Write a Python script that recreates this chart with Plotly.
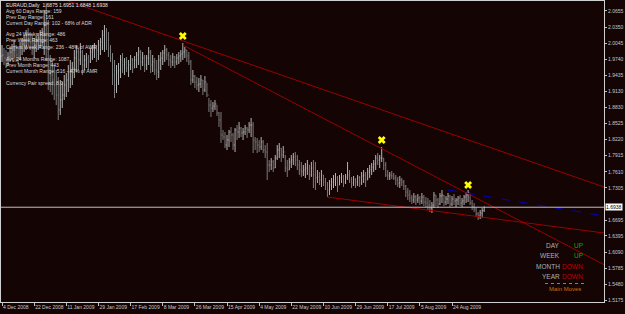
import plotly.graph_objects as go

# ---------------- data ----------------
highs = [2.0010,1.9953,1.9916,1.9878,1.9972,2.0029,2.0105,2.0010,1.9953,2.0067,
         2.0143,2.0200,2.0295,2.0332,2.0257,2.0200,2.0143,2.0181,2.0238,2.0295,
         2.0332,2.0674,2.0806,2.0484,1.9821,1.9727,1.9632,1.9537,1.9404,1.9348,
         1.9310,1.9442,1.9480,1.9632,1.9727,1.9689,1.9916,2.0010,1.9953,2.0048,
         1.9916,1.9821,1.9859,1.9821,1.9953,2.0010,2.0048,2.0010,2.0105,2.0143,
         2.0295,2.0389,2.0332,2.0257,2.0010,1.9859,1.9727,1.9632,1.9670,1.9821,
         1.9859,1.9764,1.9783,1.9727,1.9821,1.9764,1.9802,1.9878,1.9972,1.9916,
         1.9878,1.9821,1.9821,1.9972,1.9916,1.9821,1.9764,1.9727,1.9821,1.9878,
         1.9916,2.0010,1.9953,1.9878,1.9821,1.9859,1.9802,1.9840,1.9878,1.9916,
         2.0048,1.9972,1.9916,1.9878,1.9727,1.9537,1.9442,1.9404,1.9385,1.9442,
         1.9348,1.9423,1.9291,1.9006,1.8969,1.8931,1.8969,1.8874,1.8742,1.8742,
         1.8401,1.8363,1.8306,1.8401,1.8457,1.8344,1.8438,1.8495,1.8552,1.8457,
         1.8438,1.8495,1.8457,1.8552,1.8628,1.8552,1.8268,1.8249,1.8211,1.8268,
         1.8211,1.8116,1.8154,1.7833,1.7870,1.7833,1.7927,1.8116,1.8154,1.8059,
         1.8097,1.7927,1.7833,1.7870,1.7927,1.7965,1.7984,1.7927,1.7833,1.7795,
         1.7738,1.7776,1.7833,1.7738,1.7795,1.7833,1.7795,1.7643,1.7605,1.7643,
         1.7549,1.7492,1.7416,1.7454,1.7492,1.7549,1.7586,1.7530,1.7549,1.7586,
         1.7549,1.7567,1.7795,1.7643,1.7511,1.7530,1.7492,1.7549,1.7530,1.7605,
         1.7643,1.7605,1.7681,1.7738,1.7776,1.7833,1.7927,1.7965,1.7927,1.8078,
         1.7870,1.7795,1.7643,1.7605,1.7624,1.7586,1.7549,1.7511,1.7530,1.7492,
         1.7454,1.7359,1.7302,1.7264,1.7169,1.7207,1.7169,1.7188,1.7150,1.7207,
         1.7169,1.7131,1.7113,1.7075,1.7037,1.7226,1.7169,1.7113,1.7207,1.7264,
         1.7169,1.7150,1.7207,1.7169,1.7150,1.7188,1.7113,1.7150,1.7169,1.7113,
         1.7169,1.7226,1.7264,1.7207,1.7075,1.7018,1.6942,1.6848,1.6886,1.6923,
         1.6951]
lows = [1.9689,1.9632,1.9575,1.9613,1.9689,1.9727,1.9764,1.9689,1.9651,1.9727,
        1.9821,1.9878,1.9916,2.0010,1.9916,1.9821,1.9764,1.9878,1.9916,1.9953,
        1.9991,1.9821,1.9727,1.9158,1.9120,1.9063,1.8969,1.8874,1.8590,1.8685,
        1.8817,1.8969,1.9025,1.9120,1.9196,1.9253,1.9385,1.9499,1.9537,1.9632,
        1.9442,1.9537,1.9575,1.9537,1.9670,1.9727,1.9764,1.9689,1.9727,1.9821,
        1.9916,1.9878,1.9916,1.9783,1.9689,1.9253,1.9006,1.9101,1.9253,1.9385,
        1.9480,1.9442,1.9499,1.9404,1.9537,1.9480,1.9575,1.9575,1.9632,1.9537,
        1.9613,1.9499,1.9537,1.9632,1.9480,1.9499,1.9442,1.9348,1.9385,1.9537,
        1.9632,1.9689,1.9727,1.9613,1.9575,1.9613,1.9575,1.9632,1.9651,1.9689,
        1.9727,1.9764,1.9689,1.9632,1.9253,1.9291,1.9196,1.9158,1.9120,1.9196,
        1.9063,1.9120,1.9025,1.8742,1.8647,1.8742,1.8780,1.8666,1.8457,1.8154,
        1.8211,1.8059,1.8022,1.8078,1.8173,1.8022,1.7984,1.8211,1.8249,1.8268,
        1.8211,1.8306,1.8249,1.8344,1.8268,1.7965,1.8022,1.7965,1.7984,1.8022,
        1.7965,1.7870,1.7454,1.7605,1.7643,1.7605,1.7681,1.7833,1.7870,1.7795,
        1.7870,1.7605,1.7511,1.7643,1.7681,1.7738,1.7719,1.7643,1.7549,1.7511,
        1.7530,1.7492,1.7549,1.7454,1.7511,1.7302,1.7264,1.7397,1.7359,1.7321,
        1.7340,1.7264,1.7131,1.7169,1.7264,1.7302,1.7340,1.7226,1.7359,1.7397,
        1.7321,1.7378,1.7454,1.7397,1.7302,1.7340,1.7302,1.7340,1.7321,1.7359,
        1.7397,1.7321,1.7454,1.7492,1.7549,1.7605,1.7643,1.7738,1.7681,1.7795,
        1.7643,1.7511,1.7454,1.7454,1.7473,1.7454,1.7359,1.7321,1.7302,1.7340,
        1.7264,1.7131,1.7075,1.7037,1.6999,1.7018,1.6980,1.7018,1.6980,1.6999,
        1.6961,1.6942,1.6886,1.6848,1.6829,1.6923,1.6961,1.6923,1.6980,1.7018,
        1.6961,1.6980,1.6999,1.6942,1.6961,1.6980,1.6942,1.6980,1.6961,1.6942,
        1.6980,1.7018,1.7037,1.6980,1.6886,1.6848,1.6753,1.6696,1.6715,1.6734,
        1.6848]
closes = [1.9821,1.9764,1.9727,1.9783,1.9878,1.9916,1.9916,1.9821,1.9764,1.9953,
          2.0029,2.0105,2.0200,2.0143,2.0067,1.9953,2.0010,2.0105,2.0143,2.0200,
          2.0257,2.0389,2.0105,1.9537,1.9442,1.9348,1.9253,1.9063,1.8780,1.8969,
          1.9063,1.9253,1.9348,1.9499,1.9537,1.9575,1.9764,1.9878,1.9727,1.9878,
          1.9632,1.9727,1.9764,1.9689,1.9878,1.9916,1.9953,1.9916,2.0010,2.0067,
          2.0200,2.0257,2.0105,1.9953,1.9764,1.9442,1.9253,1.9499,1.9537,1.9727,
          1.9632,1.9689,1.9575,1.9632,1.9727,1.9575,1.9727,1.9821,1.9878,1.9689,
          1.9764,1.9632,1.9764,1.9878,1.9632,1.9689,1.9537,1.9499,1.9727,1.9764,
          1.9859,1.9916,1.9821,1.9727,1.9689,1.9783,1.9689,1.9764,1.9802,1.9840,
          1.9878,1.9916,1.9802,1.9689,1.9348,1.9423,1.9310,1.9253,1.9272,1.9348,
          1.9158,1.9310,1.9063,1.8874,1.8817,1.8855,1.8893,1.8723,1.8590,1.8306,
          1.8268,1.8116,1.8211,1.8363,1.8306,1.8116,1.8401,1.8363,1.8438,1.8344,
          1.8363,1.8438,1.8401,1.8495,1.8495,1.8211,1.8173,1.8116,1.8078,1.8173,
          1.8022,1.7984,1.7738,1.7738,1.7795,1.7681,1.7870,1.8022,1.8059,1.7927,
          1.7984,1.7681,1.7643,1.7795,1.7833,1.7889,1.7833,1.7738,1.7643,1.7605,
          1.7643,1.7681,1.7738,1.7549,1.7681,1.7549,1.7492,1.7511,1.7454,1.7549,
          1.7416,1.7359,1.7264,1.7359,1.7416,1.7454,1.7492,1.7359,1.7492,1.7511,
          1.7416,1.7511,1.7549,1.7454,1.7397,1.7454,1.7416,1.7492,1.7397,1.7530,
          1.7549,1.7454,1.7605,1.7643,1.7700,1.7757,1.7870,1.7833,1.7870,1.7870,
          1.7738,1.7549,1.7530,1.7549,1.7530,1.7492,1.7454,1.7397,1.7454,1.7416,
          1.7340,1.7226,1.7169,1.7113,1.7075,1.7131,1.7075,1.7113,1.7056,1.7131,
          1.7037,1.7018,1.6980,1.6923,1.6980,1.7169,1.7075,1.6999,1.7150,1.7169,
          1.7037,1.7094,1.7150,1.6999,1.7094,1.7056,1.7075,1.7113,1.7018,1.7056,
          1.7131,1.7169,1.7207,1.7018,1.6942,1.6904,1.6810,1.6772,1.6829,1.6875,
          1.6938]
first_open = 1.9800

date_ticks = [0, 16, 32, 48, 64, 80, 96, 112, 128, 144, 160, 176, 192, 208, 224]
date_labels = ["4 Dec 2008", "22 Dec 2008", "11 Jan 2009", "29 Jan 2009", "17 Feb 2009",
               "8 Mar 2009", "26 Mar 2009", "15 Apr 2009", "4 May 2009", "22 May 2009",
               "10 Jun 2009", "29 Jun 2009", "17 Jul 2009", "5 Aug 2009", "24 Aug 2009"]
price_labels = ["2.0655", "2.0350", "2.0045", "1.9740", "1.9435", "1.9130", "1.8830",
                "1.8525", "1.8220", "1.7915", "1.7610", "1.7305", "1.6695",
                "1.6395", "1.6090", "1.5785", "1.5480", "1.5175"]

pivot_idx = [90, 189, 232]
pivot_mark = [2.0181, 1.8211, 1.7359]

trend_a_x, trend_a_y = [31.4, 299.7], [2.0863, 1.7321]
trend_b_x, trend_b_y = [90, 299.7], [2.0010, 1.5850]
trend_c_x, trend_c_y = [162, 299.7], [1.7131, 1.6450]
trend_blue_x, trend_blue_y = [222, 299.7], [1.7264, 1.6772]

bid_price = 1.6938
title_text = "EURAUD,Daily  1.6875 1.6951 1.6848 1.6938"
info_lines = [
    ("Avg 60 Days Range: 159", 10.7), ("Prev Day Range: 161", 16.7),
    ("Current Day Range: 102 - 68% of ADR", 23.3),
    ("Avg 24 Weeks Range: 486", 34.3), ("Prev Week Range: 463", 40.3),
    ("Current Week Range: 236 - 48% of AWR", 46.7),
    ("Avg 24 Months Range: 1087", 59), ("Prev Month Range: 443", 65),
    ("Current Month Range: 516 - 47% of AMR", 71),
    ("Currency Pair spread: 8.0", 82.7),
]
moves_labels = ["DAY", "WEEK", "MONTH", "YEAR"]
moves_values = ["UP", "UP", "DOWN", "DOWN"]

# ---------------- figure ----------------
W, H = 625, 314
L, R, T, B = 1, 21, 1, 12
PW, PH = W - L - R, H - T - B
BG = "#140404"
FONT = "Liberation Sans, Arial, sans-serif"


def px(x):
    return (x - L) / PW


def py(y):
    return 1 - (y - T) / PH


idx = list(range(len(highs)))
opens = [first_open] + closes[:-1]

fig = go.Figure()
fig.add_trace(go.Ohlc(
    x=idx, open=opens, high=highs, low=lows, close=closes,
    increasing=dict(line=dict(color="#B4B4B4", width=1)),
    decreasing=dict(line=dict(color="#7C7C7C", width=1)),
    tickwidth=0.3, hoverinfo="skip", showlegend=False))

for xs, ys, col, dash in [(trend_a_x, trend_a_y, "#9B0000", "solid"),
                          (trend_b_x, trend_b_y, "#9B0000", "solid"),
                          (trend_c_x, trend_c_y, "#9B0000", "solid"),
                          (trend_blue_x, trend_blue_y, "#0000C8", "dash")]:
    fig.add_trace(go.Scatter(x=xs, y=ys, mode="lines",
                             line=dict(color=col, width=1, dash=dash),
                             hoverinfo="skip", showlegend=False, cliponaxis=True))

fig.add_trace(go.Scatter(x=pivot_idx, y=pivot_mark, mode="markers",
                         marker=dict(symbol="x", size=7, color="#FFFF00",
                                     line=dict(width=0)),
                         hoverinfo="skip", showlegend=False))

fig.add_shape(type="line", xref="paper", x0=0, x1=1, yref="y",
              y0=bid_price, y1=bid_price, line=dict(color="#C0C0C0", width=1))

anns = []
anns.append(dict(x=px(4), y=py(5), xref="paper", yref="paper", text=title_text,
                 showarrow=False, xanchor="left", yanchor="middle",
                 font=dict(family=FONT, size=5, color="#E8E8E8")))
for txt, yy in info_lines:
    anns.append(dict(x=px(4), y=py(yy), xref="paper", yref="paper", text=txt,
                     showarrow=False, xanchor="left", yanchor="middle",
                     font=dict(family=FONT, size=5, color="#D8D8D8")))

for k, (lab, val) in enumerate(zip(moves_labels, moves_values)):
    yy = 245 + 10.5 * k
    anns.append(dict(x=px(562), y=py(yy), xref="paper", yref="paper", text=lab,
                     showarrow=False, xanchor="right", yanchor="middle",
                     font=dict(family=FONT, size=6.5, color="#B0B0B0")))
    anns.append(dict(x=px(585), y=py(yy), xref="paper", yref="paper", text=val,
                     showarrow=False, xanchor="right", yanchor="middle",
                     font=dict(family=FONT, size=6.5,
                               color="#00B000" if val == "UP" else "#C00000")))
anns.append(dict(x=px(565), y=py(289), xref="paper", yref="paper", text="Main Moves",
                 showarrow=False, xanchor="center", yanchor="middle",
                 font=dict(family=FONT, size=6, color="#D07010")))
fig.add_shape(type="line", xref="paper", yref="paper", x0=px(545), x1=px(586),
              y0=py(283.5), y1=py(283.5), line=dict(color="#D07010", width=1, dash="dot"))

anns.append(dict(x=1, y=bid_price, xref="paper", yref="y", text=f"{bid_price:.4f}",
                 showarrow=False, xanchor="left", yanchor="middle", xshift=1,
                 bgcolor="#FFFFFF", borderpad=0,
                 font=dict(family=FONT, size=5, color="#000000")))

fig.update_layout(
    width=W, height=H, margin=dict(l=L, r=R, t=T, b=B, pad=0),
    paper_bgcolor=BG, plot_bgcolor=BG, annotations=anns, showlegend=False,
    xaxis=dict(range=[-0.5, 299.65], showgrid=False, zeroline=False,
               rangeslider=dict(visible=False),
               tickmode="array", tickvals=date_ticks, ticktext=date_labels,
               ticks="outside", ticklen=3, tickcolor="#C0C0C0", tickangle=0,
               ticklabelposition="outside right",
               tickfont=dict(family=FONT, size=5, color="#C8C8C8"),
               showline=True, linecolor="#D0D0D0", linewidth=1, mirror=True),
    yaxis=dict(range=[1.5143, 2.0844], side="right", showgrid=False, zeroline=False,
               tickmode="array", tickvals=[float(v) for v in price_labels],
               ticktext=price_labels, ticks="outside", ticklen=2, tickcolor="#C0C0C0",
               tickfont=dict(family=FONT, size=5, color="#C8C8C8"),
               showline=True, linecolor="#D0D0D0", linewidth=1, mirror=True),
)

fig.write_html("out.html")
